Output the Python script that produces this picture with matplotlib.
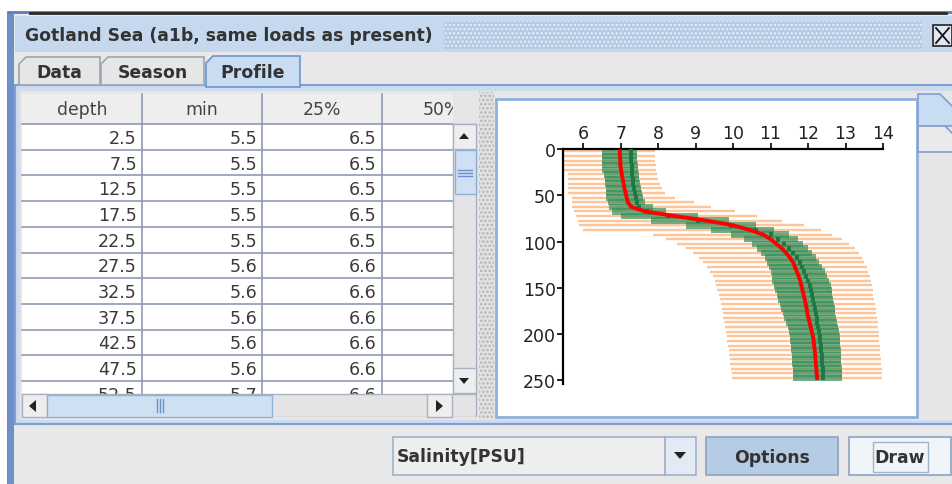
import matplotlib
matplotlib.use('Agg')
import matplotlib.pyplot as plt
from matplotlib.patches import Rectangle, Polygon

# ---- data (salinity, PSU) ----
depth = [2.5, 7.5, 12.5, 17.5, 22.5, 27.5, 32.5, 37.5, 42.5, 47.5,
         52.5, 57.5, 62.5, 67.5, 72.5, 77.5, 82.5, 87.5, 92.5, 97.5,
         102.5, 107.5, 112.5, 117.5, 122.5, 127.5, 132.5, 137.5, 142.5, 147.5,
         152.5, 157.5, 162.5, 167.5, 172.5, 177.5, 182.5, 187.5, 192.5, 197.5,
         202.5, 207.5, 212.5, 217.5, 222.5, 227.5, 232.5, 237.5, 242.5, 247.5]
sal_min = [5.5, 5.5, 5.5, 5.5, 5.5, 5.6, 5.6, 5.6, 5.6, 5.6,
           5.7, 5.7, 5.7, 5.75, 5.8, 5.85, 5.9, 6.0, 7.87, 8.2,
           8.5, 8.75, 8.94, 9.08, 9.2, 9.3, 9.38, 9.45, 9.52, 9.55,
           9.58, 9.61, 9.64, 9.67, 9.7, 9.72, 9.74, 9.76, 9.78, 9.8,
           9.83, 9.85, 9.87, 9.89, 9.9, 9.92, 9.93, 9.94, 9.96, 9.97]
sal_q25 = [6.5, 6.5, 6.5, 6.5, 6.5, 6.56, 6.57, 6.58, 6.6, 6.6,
           6.62, 6.66, 6.7, 6.78, 7.0, 7.8, 8.75, 9.4, 9.95, 10.3,
           10.5, 10.65, 10.75, 10.84, 10.9, 10.95, 11.0, 11.03, 11.05, 11.08,
           11.12, 11.16, 11.2, 11.24, 11.28, 11.32, 11.36, 11.42, 11.46, 11.49,
           11.52, 11.53, 11.54, 11.55, 11.56, 11.57, 11.58, 11.59, 11.6, 11.61]
sal_med = [7.28, 7.28, 7.28, 7.29, 7.3, 7.31, 7.32, 7.34, 7.36, 7.38,
           7.41, 7.44, 7.5, 7.7, 8.25, 9.05, 9.95, 10.6, 11.0, 11.2,
           11.36, 11.5, 11.6, 11.7, 11.78, 11.84, 11.9, 11.95, 12.0, 12.04,
           12.07, 12.1, 12.13, 12.16, 12.19, 12.21, 12.23, 12.25, 12.27, 12.29,
           12.31, 12.33, 12.34, 12.35, 12.36, 12.37, 12.38, 12.39, 12.4, 12.41]
sal_q75 = [7.43, 7.43, 7.44, 7.45, 7.46, 7.48, 7.5, 7.52, 7.54, 7.57,
           7.6, 7.64, 7.85, 8.2, 9.05, 9.9, 10.6, 11.1, 11.5, 11.72,
           11.86, 12.0, 12.1, 12.2, 12.3, 12.38, 12.44, 12.5, 12.56, 12.6,
           12.63, 12.65, 12.67, 12.69, 12.71, 12.73, 12.75, 12.78, 12.8, 12.82,
           12.84, 12.85, 12.86, 12.87, 12.88, 12.89, 12.89, 12.9, 12.9, 12.91]
sal_max = [7.92, 7.92, 7.92, 7.93, 7.95, 7.98, 8.0, 8.05, 8.1, 8.18,
           8.45, 8.95, 9.4, 10.05, 10.65, 11.3, 11.9, 12.35, 12.65, 12.9,
           13.1, 13.25, 13.35, 13.45, 13.5, 13.56, 13.6, 13.64, 13.68, 13.7,
           13.72, 13.74, 13.76, 13.78, 13.8, 13.82, 13.84, 13.86, 13.87, 13.88,
           13.89, 13.9, 13.91, 13.92, 13.93, 13.94, 13.95, 13.96, 13.97, 13.98]
sal_mean = [6.98, 6.98, 6.99, 6.99, 7.01, 7.03, 7.05, 7.08, 7.1, 7.13,
            7.16, 7.19, 7.28, 7.65, 8.45, 9.3, 10.0, 10.45, 10.8, 11.0,
            11.15, 11.3, 11.42, 11.52, 11.6, 11.65, 11.7, 11.75, 11.79, 11.82,
            11.85, 11.88, 11.91, 11.94, 11.96, 11.98, 12.01, 12.04, 12.07, 12.1,
            12.13, 12.15, 12.16, 12.18, 12.19, 12.2, 12.21, 12.22, 12.23, 12.24]

title = 'Gotland Sea (a1b, same loads as present)'
tabs = ['Data', 'Season', 'Profile']
columns = ['depth', 'min', '25%', '50%']
x_ticks = [6, 7, 8, 9, 10, 11, 12, 13, 14]
y_ticks = [0, 50, 100, 150, 200, 250]
variable = 'Salinity[PSU]'

W, H = 953, 485
plt.rcParams['hatch.linewidth'] = 1.2
fig = plt.figure(figsize=(W / 100, H / 100), dpi=100)
fig.patch.set_facecolor('white')

# background axes in pixel coordinates for the window chrome
bg = fig.add_axes([0, 0, 1, 1])
bg.set_xlim(0, W)
bg.set_ylim(H, 0)
bg.axis('off')

TXT = '#333333'
BLUE_EDGE = '#7f9fd3'
GUI_FS = 12.4


def box(x0, y0, x1, y1, fc, ec='none', lw=1.0, z=1, **kw):
    p = Rectangle((x0, y0), x1 - x0, y1 - y0, facecolor=fc, edgecolor=ec,
                  linewidth=lw, zorder=z, **kw)
    bg.add_patch(p)
    return p


def tri(pts, z=8, c='#222222'):
    bg.add_patch(Polygon(pts, closed=True, facecolor=c, edgecolor='none', zorder=z))


# window frame
box(8, 13, W + 2, H + 2, '#e8e8e8', ec='#5a7cc0', lw=2, z=0)
box(8, 15, 14, H + 2, '#6f8fca', z=1)
bg.plot([30, 946], [14, 14], color='#2a2a2a', lw=2, zorder=2)
# title bar
box(15, 17, W, 53, '#c6d8ee', z=1)
box(444, 22, 922, 50, '#b3c9e4', ec='#e6eef8', lw=0, hatch='....', z=2)
bg.text(25, 36, title, fontsize=GUI_FS, fontweight='bold', color=TXT,
        va='center', ha='left', zorder=3)
# close button
box(933, 26, 952, 47, '#dfe7f2', ec='#222222', lw=1.2, z=3)
bg.plot([936, 949], [29, 44], color='#111111', lw=1.3, zorder=4)
bg.plot([936, 949], [44, 29], color='#111111', lw=1.3, zorder=4)

# tabs
tab_x = [(19, 100), (101, 204), (206, 300)]
for name, (x0, x1) in zip(tabs, tab_x):
    sel = name == 'Profile'
    top = 57 if sel else 58
    pts = [(x0, 88 if sel else 86), (x0, top + 7), (x0 + 7, top), (x1, top), (x1, 88 if sel else 86)]
    bg.add_patch(Polygon(pts, closed=True, facecolor='#c8dcf2' if sel else '#e6e6e6',
                         edgecolor='#6f94cf' if sel else '#9aa6b4', lw=1.2, zorder=3))
    bg.text((x0 + x1) / 2, 73, name, fontsize=GUI_FS, fontweight='bold', color=TXT,
            ha='center', va='center', zorder=4)

# tab content panel
box(15, 86, W + 2, 425, '#cddbee', ec=BLUE_EDGE, lw=1.5, z=1)
box(20, 92, W + 2, 421, '#e6e6e6', z=1)

# table
row_h = 25.7
tab_top = 125
box(22, 95, 453, 395, 'white', z=2)
box(22, 95, 453, tab_top, '#eeeeee', z=2)
col_edges = [22, 142, 262, 382, 502]
grid_c = '#8d9bb0'
for cx in col_edges[1:4]:
    bg.plot([cx, cx], [95, 395], color=grid_c, lw=1.2, zorder=3)
bg.plot([22, 453], [tab_top, tab_top], color=grid_c, lw=1.2, zorder=3)
for i in range(11):
    yl = tab_top + row_h * (i + 1)
    if yl < 395:
        bg.plot([22, 453], [yl, yl], color=grid_c, lw=1.2, zorder=3)
for j, c in enumerate(columns):
    bg.text((col_edges[j] + col_edges[j + 1]) / 2, 110, c, fontsize=GUI_FS,
            color='#444444', ha='center', va='center', zorder=4)
for i in range(11):
    yc = tab_top + row_h * (i + 0.5) + 1
    for j, vals in enumerate([depth, sal_min, sal_q25]):
        bg.text(col_edges[j + 1] - 5, yc, f'{vals[i]:.1f}', fontsize=12.6,
                color='#3a3a3a', ha='right', va='center', zorder=4)
# viewport edge: hides the header overflow right of the table
box(453, 92, 478, 125, '#e6e6e6', z=6)

# vertical scrollbar
box(453, 125, 476, 395, '#e4e4e4', ec='#a8b3c2', lw=1, z=6)
box(453, 125, 476, 150, '#eeeeee', ec='#a8b3c2', lw=1, z=7)
tri([(459, 140), (469, 140), (464, 134)])
box(455, 151, 476, 195, '#cfe0f3', ec='#8fb0da', lw=1, z=7)
for yy in (171, 174, 177):
    bg.plot([458, 472], [yy, yy], color='#6e8fcc', lw=1, zorder=8)
box(453, 369, 476, 394, '#eeeeee', ec='#a8b3c2', lw=1, z=7)
tri([(459, 379), (469, 379), (464, 385)])

# horizontal scrollbar (also hides the lower half of the last row)
box(22, 395, 476, 418, '#e4e4e4', ec='#a8b3c2', lw=1, z=6)
box(22, 418, 478, 421, '#e6e6e6', z=6)
box(22, 395, 47, 418, '#eeeeee', ec='#a8b3c2', lw=1, z=7)
tri([(29, 407), (36, 401), (36, 413)])
box(47, 396, 272, 418, '#cfe0f3', ec='#8fb0da', lw=1, z=7)
for xx in (157, 160, 163):
    bg.plot([xx, xx], [400, 413], color='#6e8fcc', lw=1, zorder=8)
box(427, 395, 452, 418, '#eeeeee', ec='#a8b3c2', lw=1, z=7)
tri([(436, 401), (443, 407), (436, 413)])

# splitter
box(479, 93, 494, 420, '#e2e2e2', ec='#b4b4b4', lw=0, hatch='....', z=2)

# plot panel and side tab
box(496, 100, 917, 418, 'white', ec='#8fb0dc', lw=2, z=2)
bg.add_patch(Polygon([(918, 127), (918, 95), (940, 95), (953, 108), (953, 127)],
                     closed=True, facecolor='#c8dcf2', edgecolor='#7f9fd3', lw=1.2, zorder=3))
bg.add_patch(Polygon([(918, 127), (918, 153), (953, 153), (953, 135), (945, 127)],
                     closed=True, facecolor='#eaeaea', edgecolor='#7f9fd3', lw=1.2, zorder=3))

# bottom control bar
bg.plot([15, W], [425, 425], color=BLUE_EDGE, lw=1.5, zorder=3)
box(393, 438, 665, 476, '#eeeeee', ec='#9fb3cc', lw=1.2, z=3)
box(665, 438, 696, 476, '#e3eaf3', ec='#9fb3cc', lw=1.2, z=3)
tri([(674, 453), (686, 453), (680, 460)], z=4)
bg.text(397, 457, variable, fontsize=GUI_FS, fontweight='bold', color=TXT,
        ha='left', va='center', zorder=4)
box(706, 438, 838, 476, '#b6cbe4', ec='#8ba3c2', lw=1.2, z=3)
bg.text(772, 458, 'Options', fontsize=GUI_FS, fontweight='bold', color=TXT,
        ha='center', va='center', zorder=4)
box(849, 438, 951, 476, '#f1f5fa', ec='#8ba3c2', lw=1.2, z=3)
box(873, 443, 928, 473, 'none', ec='#9fb3cc', lw=1, z=4)
bg.text(900, 458, 'Draw', fontsize=GUI_FS, fontweight='bold', color=TXT,
        ha='center', va='center', zorder=5)

# ---- the profile plot ----
ax = fig.add_axes([563 / W, (H - 385) / H, 320 / W, 235 / H])
ax.set_facecolor('none')
ax.hlines(depth, sal_min, sal_max, color='#fdc69a', lw=1.7, zorder=1)
ax.barh(depth, [b - a for a, b in zip(sal_q25, sal_q75)], left=sal_q25, height=7,
        color='#2e8b57', alpha=0.68, edgecolor='none', zorder=2)
ax.vlines(sal_med, [d - 2.5 for d in depth], [d + 2.5 for d in depth],
          color='#1d7843', lw=2.8, zorder=3)
ax.plot(sal_mean, depth, color='#ff0000', lw=2.8, zorder=4)

ax.set_xlim(5.46, 14.0)
ax.set_ylim(254, 0)
ax.xaxis.tick_top()
ax.set_xticks(x_ticks)
ax.set_yticks(y_ticks)
ax.tick_params(axis='both', direction='out', length=4, width=1.2, pad=1,
               labelsize=12.5, labelcolor='#222222')
for s in ('right', 'bottom'):
    ax.spines[s].set_visible(False)
for s in ('left', 'top'):
    ax.spines[s].set_linewidth(1.6)

fig.savefig('out.png', dpi=100)
